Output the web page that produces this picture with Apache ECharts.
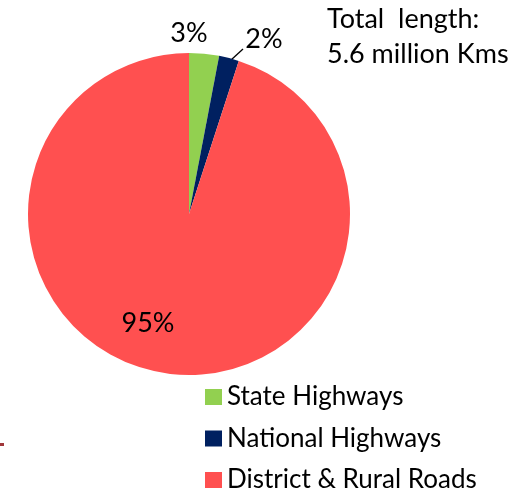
<!DOCTYPE html>
<html>
<head>
<meta charset="utf-8">
<script src="https://cdn.jsdelivr.net/npm/echarts@6/dist/echarts.min.js"></script>
<style>
  html, body { margin: 0; padding: 0; background: #ffffff; }
  #chart { width: 527px; height: 488px; }
</style>
</head>
<body>
<div id="chart"></div>
<script>
// Road network share by category
var categories = ['State Highways', 'National Highways', 'District & Rural Roads'];
var shares = [3, 2, 95];
var colors = ['#92D050', '#002060', '#FF5050'];
var totalNote = ['Total  length:', '5.6 million Kms'];

var FONT = 'Lato';

// label anchor points for each slice (centre of text)
var labelSpots = [[189, 33], [264, 39], [148, 323]];

var chart = echarts.init(document.getElementById('chart'), null, { renderer: 'canvas' });

var data = categories.map(function (name, i) {
  return {
    name: name,
    value: shares[i],
    itemStyle: { color: colors[i] },
    labelLine: { show: i === 1, lineStyle: { color: '#000000', width: 1.3 } }
  };
});

// one legend row per category, stacked at a fixed pitch
var legends = categories.map(function (name, i) {
  return {
    orient: 'vertical',
    left: 205,
    top: 384 + i * 41.5,
    padding: 0,
    itemWidth: 17,
    itemHeight: 16,
    icon: 'rect',
    selectedMode: false,
    data: [name],
    textStyle: {
      fontFamily: FONT,
      fontSize: 26,
      color: '#000000'
    }
  };
});

chart.setOption({
  animation: false,
  backgroundColor: '#ffffff',
  title: {
    text: totalNote.join('\n'),
    left: 327,
    top: 2,
    padding: 0,
    textStyle: {
      fontFamily: FONT,
      fontSize: 27,
      fontWeight: 'normal',
      color: '#000000',
      lineHeight: 35
    }
  },
  legend: legends,
  graphic: [{
    type: 'rect',
    shape: { x: 0, y: 443, width: 4, height: 3 },
    style: { fill: '#A0363A' },
    silent: true
  }],
  series: [{
    type: 'pie',
    center: [189, 214],
    radius: [0, 161],
    startAngle: 90,
    clockwise: true,
    avoidLabelOverlap: false,
    silent: true,
    label: {
      show: true,
      formatter: '{c}%',
      fontFamily: FONT,
      fontSize: 27,
      color: '#000000'
    },
    labelLine: { show: false },
    labelLayout: function (params) {
      var p = labelSpots[params.dataIndex];
      var out = { x: p[0], y: p[1], align: 'center', verticalAlign: 'middle' };
      if (params.dataIndex === 1) {
        out.labelLinePoints = [[231, 60], [243, 49], [243, 49]];
      }
      return out;
    },
    data: data
  }]
});
</script>
</body>
</html>
